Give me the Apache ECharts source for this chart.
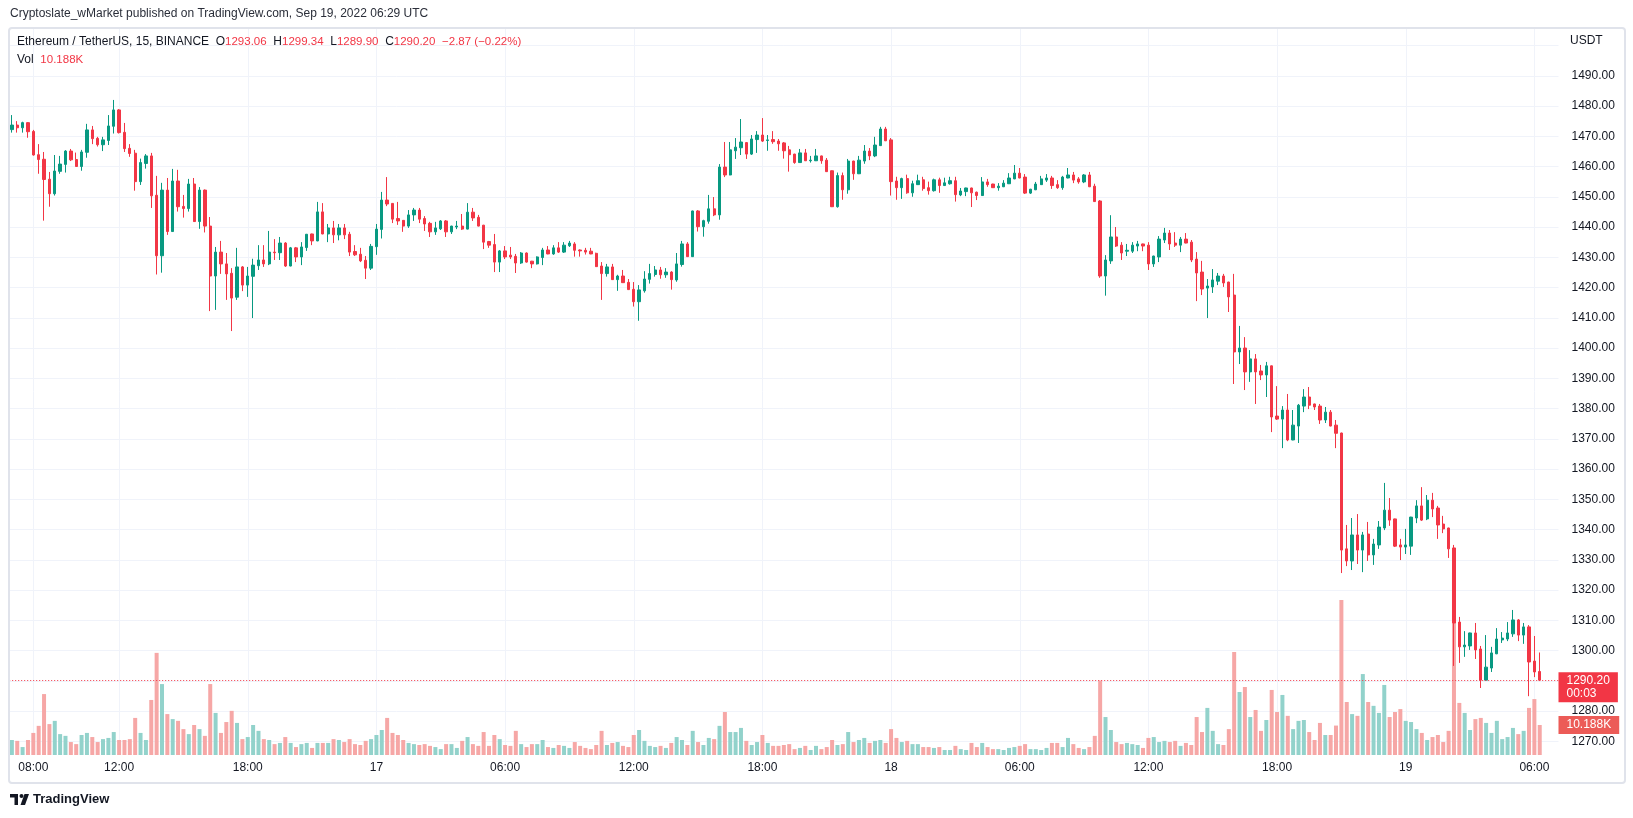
<!DOCTYPE html>
<html>
<head>
<meta charset="utf-8">
<script src="https://cdn.jsdelivr.net/npm/echarts/dist/echarts.min.js"></script>
<style>
  html, body { margin: 0; padding: 0; background: #fff; }
  #container { width: 1633px; height: 818px; }
</style>
</head>
<body>
<div id="container"></div>
<script>
// ETH/USDT 15m bars, Sep 16 07:00 -> Sep 19 06:15 (UTC), rows are [open, high, low, close]
const ohlc = [
  [1472.2,1477.0,1471.2,1473.7],[1473.7,1475.0,1471.2,1472.8],[1472.8,1474.8,1471.2,1474.5],[1474.5,1474.7,1469.5,1471.5],
  [1471.6,1472.1,1463.6,1463.8],[1463.9,1467.4,1457.6,1462.3],[1462.4,1464.8,1442.1,1455.7],[1455.8,1458.2,1446.7,1451.0],
  [1451.0,1463.8,1450.4,1458.5],[1458.4,1463.5,1457.6,1460.8],[1460.7,1465.4,1458.0,1465.1],[1465.1,1465.8,1461.8,1462.2],
  [1462.3,1464.6,1460.0,1460.0],[1460.0,1465.5,1458.6,1464.8],[1464.7,1474.1,1462.9,1472.1],[1472.1,1473.4,1467.4,1469.2],
  [1469.3,1469.8,1466.6,1467.2],[1467.2,1469.8,1465.1,1468.8],[1468.6,1477.0,1467.1,1473.4],[1473.3,1482.0,1470.9,1478.7],
  [1478.7,1479.0,1470.9,1471.2],[1471.3,1474.4,1464.8,1465.9],[1466.0,1467.4,1463.2,1464.3],[1464.4,1465.5,1452.0,1455.0],
  [1455.0,1462.6,1453.9,1461.3],[1461.0,1464.1,1459.3,1463.5],[1463.5,1464.5,1446.3,1450.3],[1450.5,1456.9,1424.3,1430.5],
  [1430.5,1454.6,1424.9,1452.2],[1452.2,1456.2,1437.4,1438.5],[1438.5,1459.2,1438.5,1455.2],[1455.2,1458.9,1445.1,1446.7],
  [1446.8,1450.6,1443.1,1446.1],[1446.1,1455.9,1445.1,1454.2],[1454.2,1456.2,1441.7,1441.8],[1441.8,1453.2,1439.4,1452.2],
  [1452.2,1452.4,1438.2,1440.3],[1440.3,1443.3,1412.2,1423.8],[1423.8,1433.4,1412.6,1431.7],[1431.7,1435.4,1424.5,1427.8],
  [1427.8,1431.4,1415.9,1424.5],[1424.7,1426.4,1405.6,1416.5],[1416.8,1433.1,1415.9,1426.8],[1426.8,1427.1,1418.8,1420.8],
  [1420.8,1426.8,1416.9,1423.8],[1423.7,1429.5,1409.9,1427.4],[1427.2,1434.0,1425.8,1429.1],[1429.1,1434.0,1426.8,1427.8],
  [1427.8,1438.7,1427.4,1431.7],[1431.7,1436.0,1429.1,1431.5],[1431.5,1436.7,1429.1,1434.7],[1434.7,1435.0,1426.8,1427.1],
  [1427.1,1433.4,1427.0,1433.1],[1433.1,1433.4,1428.4,1430.1],[1430.1,1435.0,1427.4,1433.4],[1433.2,1437.7,1432.1,1437.6],
  [1437.7,1437.8,1434.0,1435.4],[1435.4,1448.3,1435.3,1445.0],[1445.0,1447.9,1437.6,1437.7],[1437.7,1441.0,1435.0,1439.7],
  [1439.7,1442.0,1434.7,1437.4],[1437.4,1441.0,1435.6,1439.7],[1439.7,1441.0,1436.0,1437.4],[1437.6,1438.4,1430.4,1431.7],
  [1431.9,1434.0,1430.4,1430.8],[1431.0,1433.1,1428.4,1428.8],[1429.0,1430.4,1422.8,1426.4],[1426.4,1434.4,1425.8,1433.6],
  [1433.5,1441.0,1430.8,1439.3],[1439.2,1451.6,1436.2,1448.9],[1448.9,1456.5,1446.9,1447.6],[1447.8,1447.9,1441.3,1442.6],
  [1442.8,1448.3,1440.7,1442.0],[1442.2,1442.3,1438.4,1440.3],[1440.3,1445.6,1439.7,1444.0],[1444.0,1446.3,1442.0,1445.6],
  [1445.6,1446.3,1441.3,1442.6],[1442.8,1443.6,1438.7,1441.0],[1441.2,1441.7,1436.7,1438.4],[1438.4,1441.7,1437.4,1439.7],
  [1439.4,1442.3,1439.0,1442.0],[1442.0,1442.3,1436.7,1438.4],[1438.4,1440.4,1437.7,1440.3],[1440.0,1442.0,1439.3,1440.3],
  [1440.3,1444.3,1439.0,1439.3],[1439.3,1447.9,1439.2,1444.9],[1444.9,1446.3,1442.0,1443.0],[1443.2,1444.0,1440.2,1440.3],
  [1440.6,1440.7,1432.7,1435.0],[1435.2,1435.4,1433.1,1434.0],[1434.2,1437.7,1425.1,1428.4],[1428.4,1432.4,1425.1,1432.1],
  [1432.1,1433.7,1429.4,1430.1],[1430.7,1433.4,1429.4,1430.1],[1430.3,1431.1,1424.8,1428.1],[1428.1,1431.7,1427.8,1431.4],
  [1431.4,1431.6,1428.2,1428.4],[1428.7,1428.8,1426.4,1427.8],[1427.8,1430.3,1427.6,1430.1],[1429.9,1433.1,1427.4,1432.4],
  [1432.4,1433.7,1431.0,1431.1],[1431.1,1434.0,1430.8,1433.1],[1433.1,1435.0,1431.4,1431.7],[1431.7,1435.0,1431.4,1434.0],
  [1433.8,1435.4,1433.4,1434.7],[1434.4,1435.0,1430.2,1432.3],[1432.4,1432.6,1430.2,1432.1],[1432.3,1433.1,1430.9,1431.7],
  [1432.0,1433.1,1431.0,1431.1],[1431.3,1431.5,1426.8,1426.9],[1427.1,1428.4,1415.9,1424.6],[1424.6,1427.8,1423.6,1426.8],
  [1426.8,1427.8,1422.5,1422.6],[1422.6,1424.2,1418.9,1423.8],[1423.8,1425.8,1421.5,1421.6],[1421.7,1422.8,1419.2,1419.3],
  [1419.4,1421.8,1413.7,1415.3],[1415.3,1420.8,1409.0,1419.2],[1418.9,1425.4,1418.3,1422.8],[1422.7,1427.8,1421.3,1424.6],
  [1424.3,1427.1,1423.6,1425.8],[1425.8,1426.8,1422.9,1424.2],[1424.2,1426.4,1423.2,1425.1],[1425.1,1425.4,1419.3,1422.6],
  [1422.5,1431.4,1421.9,1427.8],[1427.6,1435.4,1426.9,1434.4],[1434.4,1435.0,1430.1,1430.2],[1430.2,1445.4,1430.1,1445.3],
  [1445.3,1445.6,1438.5,1440.1],[1440.1,1442.4,1436.8,1442.1],[1441.9,1450.6,1441.1,1446.0],[1446.0,1449.9,1443.6,1444.0],
  [1444.0,1460.8,1442.4,1459.8],[1459.8,1468.1,1456.5,1457.2],[1457.2,1468.1,1457.1,1465.5],[1465.2,1469.4,1462.5,1466.4],
  [1466.2,1475.7,1463.8,1468.1],[1467.9,1468.1,1462.5,1464.1],[1464.1,1470.4,1463.8,1469.1],[1468.9,1471.7,1464.5,1470.4],
  [1470.4,1476.0,1468.1,1468.4],[1468.6,1470.4,1465.2,1468.8],[1468.9,1471.7,1467.5,1468.2],[1468.4,1469.1,1465.2,1467.5],
  [1467.8,1468.1,1462.6,1465.2],[1465.5,1466.8,1458.3,1463.9],[1464.1,1464.2,1460.9,1461.3],[1461.3,1465.8,1461.2,1464.5],
  [1464.5,1465.8,1461.8,1461.9],[1461.9,1463.5,1461.3,1462.1],[1461.9,1465.8,1461.8,1463.5],[1463.5,1463.6,1460.9,1461.9],
  [1462.1,1462.8,1458.2,1458.3],[1458.6,1458.7,1446.6,1446.7],[1446.7,1458.0,1446.4,1457.0],[1457.0,1458.0,1449.0,1452.3],
  [1452.3,1462.5,1451.0,1461.8],[1461.8,1461.9,1455.6,1457.6],[1457.6,1463.5,1457.5,1462.1],[1461.8,1467.1,1460.9,1465.1],
  [1465.1,1466.1,1462.1,1463.5],[1463.5,1469.8,1463.1,1467.1],[1466.9,1473.1,1466.8,1472.4],[1472.4,1473.1,1468.4,1468.5],
  [1468.8,1469.4,1450.4,1455.0],[1455.2,1456.6,1449.0,1453.0],[1453.0,1456.3,1449.3,1456.0],[1456.0,1457.3,1451.0,1451.3],
  [1451.3,1455.3,1450.0,1454.3],[1454.0,1457.3,1453.9,1455.3],[1455.6,1456.6,1452.0,1452.7],[1453.0,1455.0,1450.7,1452.0],
  [1452.0,1456.0,1451.7,1455.6],[1455.6,1456.3,1451.3,1453.7],[1453.7,1456.3,1453.6,1454.6],[1454.3,1456.6,1454.0,1455.3],
  [1455.3,1456.6,1448.4,1450.7],[1450.6,1452.9,1450.2,1451.9],[1451.7,1453.0,1450.2,1452.9],[1452.9,1453.0,1446.6,1451.3],
  [1451.5,1451.7,1448.9,1450.4],[1450.4,1456.5,1450.3,1454.9],[1454.9,1455.9,1453.3,1454.0],[1454.2,1454.3,1452.9,1453.0],
  [1453.0,1454.5,1452.0,1453.5],[1453.3,1455.5,1453.2,1454.5],[1454.3,1457.8,1454.2,1456.2],[1455.9,1460.5,1455.8,1457.8],
  [1457.8,1459.5,1456.1,1456.2],[1456.5,1457.5,1450.9,1451.2],[1451.2,1452.6,1450.9,1452.5],[1452.3,1454.9,1452.2,1454.2],
  [1454.0,1456.9,1453.9,1455.9],[1455.5,1457.5,1454.9,1456.2],[1456.2,1456.9,1452.6,1453.7],[1454.0,1455.5,1452.6,1453.0],
  [1453.0,1456.9,1452.3,1456.5],[1456.2,1459.5,1456.1,1457.2],[1457.2,1458.2,1454.5,1455.5],[1455.9,1456.5,1454.3,1454.9],
  [1454.9,1457.5,1454.5,1457.2],[1457.2,1458.2,1453.2,1453.3],[1453.5,1454.3,1448.3,1448.4],[1448.6,1448.9,1423.2,1423.8],
  [1423.8,1430.7,1417.3,1429.1],[1428.8,1443.9,1427.8,1436.7],[1436.7,1440.0,1433.4,1433.7],[1434.0,1435.0,1429.1,1431.4],
  [1432.0,1434.4,1430.4,1432.3],[1432.0,1435.0,1431.4,1434.0],[1433.7,1435.4,1432.0,1434.4],[1434.4,1434.5,1432.0,1433.7],
  [1434.0,1435.0,1425.8,1427.8],[1427.8,1430.5,1426.8,1430.4],[1430.1,1437.0,1428.4,1436.0],[1435.7,1439.7,1434.7,1438.0],
  [1438.0,1439.0,1432.4,1434.4],[1434.7,1438.3,1433.4,1434.0],[1434.0,1436.7,1431.7,1436.0],[1436.0,1438.0,1434.6,1434.7],
  [1435.0,1435.7,1428.4,1429.1],[1429.4,1431.7,1415.5,1424.8],[1425.1,1428.8,1417.5,1419.5],[1419.8,1422.8,1409.9,1420.5],
  [1420.2,1426.1,1418.2,1422.5],[1422.1,1424.8,1420.8,1423.8],[1423.8,1424.5,1420.2,1421.5],[1421.8,1421.9,1411.9,1416.9],
  [1417.5,1424.5,1388.1,1398.7],[1398.7,1407.3,1394.7,1400.0],[1400.0,1403.6,1386.1,1392.1],[1392.1,1399.3,1388.8,1396.4],
  [1396.4,1398.0,1381.5,1392.1],[1392.4,1394.4,1389.4,1391.1],[1391.1,1395.4,1383.8,1394.1],[1394.1,1394.2,1372.2,1377.2],
  [1377.5,1387.4,1376.2,1376.5],[1376.5,1380.8,1366.9,1379.5],[1379.5,1384.8,1369.2,1369.6],[1369.6,1379.5,1369.5,1374.5],
  [1374.2,1381.5,1368.6,1381.1],[1380.8,1386.4,1378.8,1383.8],[1383.8,1387.1,1379.8,1381.1],[1381.5,1381.6,1379.5,1380.5],
  [1380.8,1381.5,1374.9,1376.2],[1376.2,1380.5,1375.2,1378.8],[1378.8,1379.5,1374.1,1374.2],[1374.5,1376.2,1366.9,1371.8],
  [1371.9,1372.0,1325.6,1333.2],[1333.6,1341.5,1327.9,1329.6],[1329.6,1343.8,1326.6,1338.2],[1338.2,1345.1,1328.6,1333.2],
  [1333.2,1339.2,1325.9,1338.2],[1338.5,1342.5,1329.6,1331.6],[1331.6,1336.9,1328.3,1335.2],[1334.9,1342.8,1333.6,1340.8],
  [1340.5,1355.4,1339.8,1346.4],[1346.4,1350.4,1341.2,1343.1],[1343.5,1343.6,1334.2,1334.5],[1334.9,1336.9,1329.9,1334.2],
  [1334.2,1340.2,1331.9,1334.9],[1334.5,1344.2,1331.6,1344.1],[1343.8,1349.7,1342.1,1347.8],[1347.8,1354.0,1342.8,1343.1],
  [1343.5,1351.4,1343.1,1349.7],[1349.7,1352.1,1344.1,1346.8],[1347.1,1347.8,1336.9,1341.5],[1341.8,1344.5,1338.8,1340.2],
  [1340.5,1340.6,1330.6,1333.6],[1333.9,1334.9,1294.9,1309.1],[1309.4,1311.1,1295.9,1301.2],[1301.2,1306.4,1297.9,1301.8],
  [1301.5,1305.9,1300.2,1305.8],[1305.8,1309.1,1297.2,1300.2],[1300.5,1301.5,1287.6,1290.2],[1290.2,1305.1,1290.1,1294.5],
  [1294.2,1301.2,1292.9,1299.2],[1298.9,1307.4,1298.8,1303.8],[1303.5,1306.1,1302.5,1304.1],[1303.8,1309.4,1303.1,1305.8],
  [1305.5,1313.4,1304.5,1310.1],[1310.1,1310.4,1303.1,1305.1],[1305.1,1309.1,1302.2,1307.8],[1307.8,1308.4,1284.9,1296.2],
  [1296.5,1304.8,1291.2,1292.9],[1293.06,1299.34,1289.90,1290.20]
];

// volume per bar, thousands of ETH
const volumes = [
  5.1,4.8,2.7,5.1,7.5,9.9,20.7,10.5,11.6,7.1, 6.5,4.4,3.7,6.8,7.5,6.1,4.4,5.4,5.8,7.8,
  5.1,5.1,5.4,12.6,7.5,5.1,18.7,34.7,24.1,13.9, 12.2,11.6,8.8,7.1,10.2,8.8,6.5,24.1,14.3,7.5,
  11.2,15.0,10.9,5.4,6.1,10.2,8.2,5.4,5.1,3.7, 4.1,6.1,4.1,2.7,3.7,4.1,2.4,4.1,4.1,4.1,
  5.4,5.1,4.4,5.4,3.7,3.4,4.8,5.4,6.8,8.5, 12.6,7.5,6.8,5.1,4.1,3.7,3.4,3.7,3.1,2.7,
  2.0,3.7,3.7,2.4,4.8,6.1,3.7,3.1,7.8,3.1, 6.8,5.4,3.4,3.1,8.2,3.7,
  2.7,3.7,3.7,5.1,2.7,2.4,3.4,3.1,2.4, 4.4,3.1,2.4,2.0,3.4,8.2,3.4,4.1,4.4,3.1,
  2.7,6.8,8.5,4.8,3.1,2.7,3.1,2.4,4.1,6.1, 5.1,3.4,8.2,4.4,3.4,5.8,5.4,9.9,14.6,7.8,
  7.8,9.2,4.8,3.4,4.4,6.8,4.1,3.1,3.1,3.4, 3.7,2.0,2.4,3.1,1.7,3.1,2.0,2.7,5.1,3.4,
  3.7,7.8,4.4,5.1,5.8,4.1,4.8,5.1,4.1,8.8, 5.8,4.4,4.8,3.7,3.7,2.7,2.7,2.4,2.7,1.7,
  1.7,3.1,2.0,1.7,4.1,2.7,4.1,2.7,2.0,2.0, 1.7,2.4,2.7,3.1,3.7,2.0,
  2.0,1.7,2.4,4.1,4.1,2.7,5.8,3.7,2.4, 2.0,2.7,6.5,25.3,12.9,8.5,4.4,3.7,4.1,3.7,
  3.4,2.4,5.8,6.1,4.4,4.8,4.4,4.8,3.1,4.1, 3.4,12.9,7.8,16.0,8.2,3.7,3.4,8.8,35.0,21.4,
  23.1,12.9,15.3,8.2,11.9,22.1,14.6,20.4,13.3,8.8, 11.6,11.9,7.8,5.1,10.9,6.8,6.8,10.0,52.7,18.0,
  13.9,13.3,27.5,18.0,16.7,14.3,23.8,12.9,14.6,15.6, 11.6,11.2,8.8,7.5,5.1,6.1,6.8,4.4,8.2,62.0,
  17.7,14.3,8.5,12.2,12.6,10.9,7.5,11.6,5.4,6.1, 9.2,7.1,8.2,16.0,19.0,10.188
];

// time axis labels, keyed by bar index
const tickLabels = {
  4: '08:00', 20: '12:00', 44: '18:00', 68: '17', 92: '06:00', 116: '12:00', 140: '18:00',
  164: '18', 188: '06:00', 212: '12:00', 236: '18:00', 260: '19', 284: '06:00'
};

const lastPrice = 1290.20;
const lastVolume = 10.188;
const countdown = '00:03';

const upColor = '#089981';
const downColor = '#f23645';
const volUp = '#92d2cb';
const volDown = '#f6a7a6';
const gridColor = '#f0f3fa';
const textColor = '#131722';
const font = 'Liberation Sans, Arial, sans-serif';

// bar slots (3 empty slots on the right like the TV right margin)
const slots = 289;
const start = Date.UTC(2022, 8, 16, 7, 0);
const times = [];
for (let i = 0; i < slots; i++) {
  const d = new Date(start + i * 15 * 60 * 1000);
  times.push(d.toISOString().slice(5, 16).replace('T', ' '));
}

const candleData = ohlc.map(r => [r[0], r[3], r[2], r[1]]);
const volumeData = volumes.map((v, i) => ({
  value: v,
  itemStyle: { color: ohlc[i][3] >= ohlc[i][0] ? volUp : volDown }
}));

const isTick = idx => tickLabels[idx] !== undefined;

const legendRich = {
  d: { fontSize: 12, color: textColor, fontFamily: font },
  r: { fontSize: 11.5, color: downColor, fontFamily: font }
};

const myChart = echarts.init(document.getElementById('container'));
const option = {
  animation: false,
  backgroundColor: '#fff',
  textStyle: { fontFamily: font },
  title: [
    {
      text: 'Cryptoslate_wMarket published on TradingView.com, Sep 19, 2022 06:29 UTC',
      left: 10, top: 8, padding: 0,
      textStyle: { fontSize: 12, fontWeight: 'normal', color: '#2a2e39', fontFamily: font }
    },
    {
      text: '{d|Ethereum / TetherUS, 15, BINANCE}  {d|O}{r|1293.06}  {d|H}{r|1299.34}  {d|L}{r|1289.90}  {d|C}{r|1290.20}  {r|\u22122.87 (\u22120.22%)}',
      left: 17, top: 36, padding: 0,
      textStyle: { fontSize: 12, fontWeight: 'normal', color: textColor, fontFamily: font, rich: legendRich }
    },
    {
      text: '{d|Vol}  {r|10.188K}',
      left: 17, top: 54, padding: 0,
      textStyle: { fontSize: 12, fontWeight: 'normal', color: textColor, fontFamily: font, rich: legendRich }
    },
    {
      text: 'USDT',
      left: 1570, top: 35, padding: 0,
      textStyle: { fontSize: 12, fontWeight: 'normal', color: textColor, fontFamily: font }
    },
    {
      text: 'TradingView',
      left: 33, top: 793, padding: 0,
      textStyle: { fontSize: 13, fontWeight: 'bold', color: textColor, fontFamily: font }
    }
  ],
  graphic: [
    {
      type: 'rect', z: 100, silent: true,
      shape: { x: 9, y: 28, width: 1616, height: 755, r: 3 },
      style: { fill: null, stroke: '#e0e3eb', lineWidth: 2 }
    },
    {
      type: 'group', left: 10, top: 794, z: 100, silent: true,
      children: [
        { type: 'rect', shape: { x: 0, y: 0, width: 8, height: 3.5 }, style: { fill: textColor } },
        { type: 'rect', shape: { x: 4.5, y: 0, width: 3.5, height: 11 }, style: { fill: textColor } },
        { type: 'circle', shape: { cx: 11.5, cy: 2, r: 2 }, style: { fill: textColor } },
        { type: 'polygon', shape: { points: [[14.5, 0], [19, 0], [15, 11], [10.5, 11]] }, style: { fill: textColor } }
      ]
    }
  ],
  grid: [
    { left: 9.2, right: 74.5, top: 45.5, bottom: 76.75 },   // price
    { left: 9.2, right: 74.5, top: 28, bottom: 63 },        // volume
    { left: 11.88, right: 77.12, top: 28, bottom: 63 }      // time axis / vertical grid
  ],
  xAxis: [
    {
      type: 'category', gridIndex: 0, data: times, boundaryGap: true,
      axisLine: { show: false }, axisTick: { show: false }, axisLabel: { show: false }, splitLine: { show: false }
    },
    {
      type: 'category', gridIndex: 1, data: times, boundaryGap: true,
      axisLine: { show: false }, axisTick: { show: false }, axisLabel: { show: false }, splitLine: { show: false }
    },
    {
      type: 'category', gridIndex: 2, data: times, boundaryGap: false,
      axisLine: { show: false }, axisTick: { show: false },
      axisLabel: {
        interval: idx => isTick(idx),
        formatter: (v, idx) => tickLabels[idx] || '',
        color: textColor, fontSize: 12, margin: 7, fontFamily: font
      },
      splitLine: { show: true, interval: idx => isTick(idx), lineStyle: { color: gridColor, width: 1 } }
    }
  ],
  yAxis: [
    {
      type: 'value', gridIndex: 0, position: 'right', min: 1270, max: 1500, interval: 10,
      axisLine: { show: false }, axisTick: { show: false },
      axisLabel: {
        color: textColor, fontSize: 12, margin: 13, align: 'left', fontFamily: font,
        formatter: v => (v === 1500 || v === 1290) ? '' : v.toFixed(2)
      },
      splitLine: { show: true, lineStyle: { color: gridColor, width: 1 } }
    },
    {
      type: 'value', gridIndex: 1, min: 0, max: 247, show: false, splitLine: { show: false }
    },
    {
      type: 'value', gridIndex: 2, show: false, splitLine: { show: false }
    }
  ],
  series: [
    {
      type: 'bar', name: 'Vol', xAxisIndex: 1, yAxisIndex: 1,
      data: volumeData, barWidth: 4, z: 1, silent: true,
      markLine: {
        silent: true, symbol: ['none', 'none'],
        lineStyle: { color: 'rgba(0,0,0,0)', width: 0 },
        data: [{ yAxis: lastVolume }],
        label: {
          show: true, position: 'end', distance: 0,
          formatter: () => lastVolume.toFixed(3) + 'K',
          backgroundColor: '#ec5b57', color: '#fff', fontSize: 12, fontFamily: font,
          padding: [3, 8, 3, 8]
        }
      }
    },
    {
      type: 'candlestick', name: 'ETHUSDT', xAxisIndex: 0, yAxisIndex: 0,
      data: candleData, barWidth: 2.8, z: 3, silent: true,
      itemStyle: {
        color: upColor, color0: downColor,
        borderColor: upColor, borderColor0: downColor, borderWidth: 1
      },
      markLine: {
        silent: true, symbol: ['none', 'none'],
        lineStyle: { color: downColor, width: 1, type: [1, 2] },
        data: [{ yAxis: lastPrice }],
        label: {
          show: true, position: 'end', distance: 0,
          formatter: () => lastPrice.toFixed(2) + '\n' + countdown,
          backgroundColor: downColor, color: '#fff', fontSize: 12, lineHeight: 13, fontFamily: font,
          padding: [2, 8, 2, 8], offset: [0, 7]
        }
      }
    }
  ]
};
myChart.setOption(option);
</script>
</body>
</html>
